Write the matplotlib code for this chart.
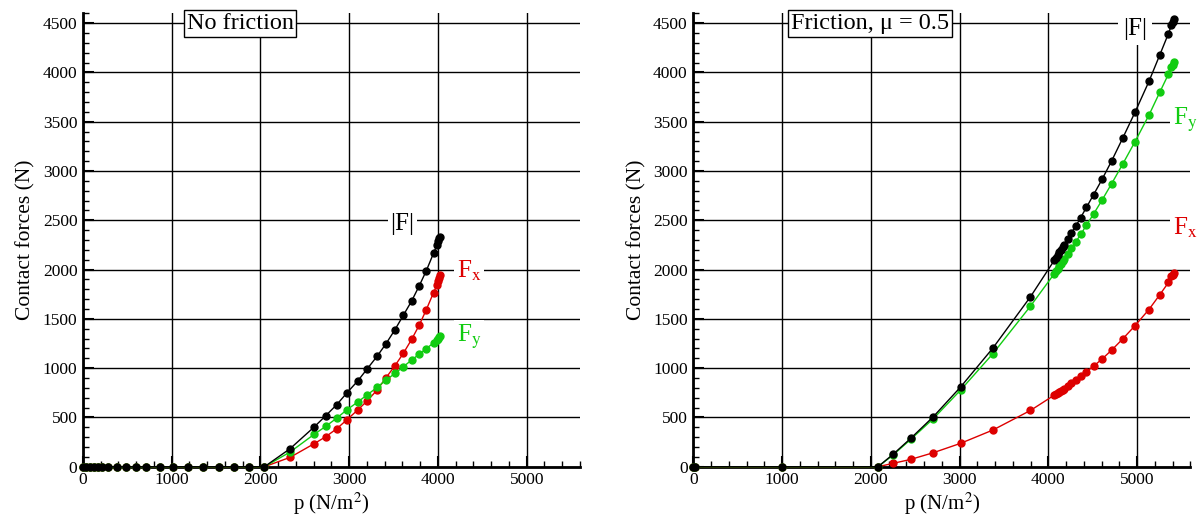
import numpy as np
import matplotlib
matplotlib.use('Agg')
import matplotlib.pyplot as plt
from matplotlib.ticker import MultipleLocator

plt.rcParams['font.family'] = ['Liberation Serif', 'DejaVu Serif']
plt.rcParams['mathtext.fontset'] = 'stix'

RED = '#dd0000'
GREEN = '#11cc11'

# No friction: p (N/m^2) and contact forces (N)
p_nf = [0, 37, 75, 120, 165, 210, 285, 379, 483, 596, 716, 865, 1015, 1183,
        1352, 1528, 1700, 1876, 2045, 2334, 2604, 2735, 2859, 2975, 3095, 3204,
        3313, 3414, 3515, 3609, 3703, 3789, 3868, 3950, 3990, 4005, 4015, 4025]
nf_zeros = [0] * 18
F_nf = nf_zeros + [0, 183, 402, 517, 629, 750, 869, 994, 1119, 1247, 1389, 1535,
                   1680, 1835, 1987, 2165, 2250, 2290, 2318, 2335]
Fx_nf = nf_zeros + [0, 95, 233, 304, 385, 477, 575, 669, 777, 902, 1024, 1149,
                    1291, 1436, 1592, 1765, 1845, 1880, 1915, 1940]
Fy_nf = nf_zeros + [0, 149, 328, 409, 493, 578, 656, 730, 804, 879, 946, 1014,
                    1082, 1142, 1197, 1257, 1288, 1300, 1315, 1328]

# Friction, mu = 0.5
p_f = [0, 20, 1000, 2081, 2250, 2449, 2704, 3011, 3375, 3799, 4069, 4088, 4106,
       4125, 4144, 4162, 4181, 4219, 4260, 4309, 4365, 4429, 4511, 4605, 4714,
       4837, 4976, 5134, 5258, 5354, 5388, 5400, 5415]
F_f = [0, 0, 0, 0, 125, 287, 507, 808, 1203, 1724, 2096, 2120, 2147, 2174, 2201,
       2225, 2250, 2315, 2373, 2440, 2528, 2630, 2761, 2914, 3103, 3331, 3594,
       3909, 4182, 4395, 4480, 4513, 4547]
Fx_f = [0, 0, 0, 0, 34, 74, 142, 237, 372, 571, 727, 737, 748, 759, 770, 781,
        792, 815, 845, 879, 919, 963, 1021, 1092, 1183, 1295, 1430, 1595, 1747,
        1869, 1933, 1950, 1965]
Fy_f = [0, 0, 0, 0, 118, 277, 487, 777, 1146, 1629, 1960, 1985, 2010, 2035, 2060,
        2085, 2110, 2160, 2214, 2281, 2356, 2450, 2565, 2704, 2872, 3068, 3296,
        3567, 3803, 3983, 4057, 4080, 4101]


def style_axes(ax, title, title_x):
    ax.set_xlim(0, 5600)
    ax.set_ylim(0, 4600)
    ax.xaxis.set_major_locator(MultipleLocator(1000))
    ax.xaxis.set_minor_locator(MultipleLocator(200))
    ax.yaxis.set_major_locator(MultipleLocator(500))
    ax.yaxis.set_minor_locator(MultipleLocator(100))
    ax.spines['top'].set_visible(False)
    ax.spines['right'].set_visible(False)
    ax.spines['left'].set_linewidth(2)
    ax.spines['bottom'].set_linewidth(2)
    ax.tick_params(which='major', direction='in', length=8, width=1.5,
                   labelsize=12.5, pad=4)
    ax.tick_params(which='minor', direction='in', length=4, width=1)
    ax.grid(True, which='major', color='black', linewidth=1)
    ax.set_axisbelow(True)
    ax.set_xlabel('p (N/m$^2$)', fontsize=15, labelpad=2)
    ax.set_ylabel('Contact forces (N)', fontsize=15.5, labelpad=5)
    ax.text(title_x, 4500, title, fontsize=17.5, ha='center', va='center',
            bbox=dict(boxstyle='square,pad=0.12', fc='white', ec='black', lw=1),
            zorder=6)


def plot_series(ax, p, F, Fx, Fy):
    kw = dict(marker='o', markersize=5, linewidth=1, clip_on=False, zorder=4)
    ax.plot(p, Fx, color=RED, **kw)
    ax.plot(p, Fy, color=GREEN, **kw)
    ax.plot(p, F, color='black', **kw)


def label(ax, x, y, s, color, ha='left', pad=0.1):
    ax.text(x, y, s, color=color, fontsize=18, ha=ha, va='baseline', zorder=5,
            bbox=dict(boxstyle=f'square,pad={pad}', fc='white', ec='none'))


fig = plt.figure(figsize=(11.97, 5.18), dpi=100)
ax1 = fig.add_axes([0.0693, 0.099, 0.4152, 0.8753])
ax2 = fig.add_axes([0.5792, 0.099, 0.4152, 0.8753])

style_axes(ax1, 'No friction', 1770)
plot_series(ax1, p_nf, F_nf, Fx_nf, Fy_nf)
label(ax1, 3600, 2400, '|F|', 'black', ha='center')
label(ax1, 4214, 1914, r'F$_{\mathrm{x}}$', RED)
label(ax1, 4214, 1268, r'F$_{\mathrm{y}}$', GREEN)

style_axes(ax2, 'Friction, μ = 0.5', 1990)
plot_series(ax2, p_f, F_f, Fx_f, Fy_f)
label(ax2, 4982, 4380, '|F|', 'black', ha='center', pad=0.2)
label(ax2, 5405, 2350, r'F$_{\mathrm{x}}$', RED)
label(ax2, 5405, 3465, r'F$_{\mathrm{y}}$', GREEN)

fig.savefig('out.png', dpi=100)
